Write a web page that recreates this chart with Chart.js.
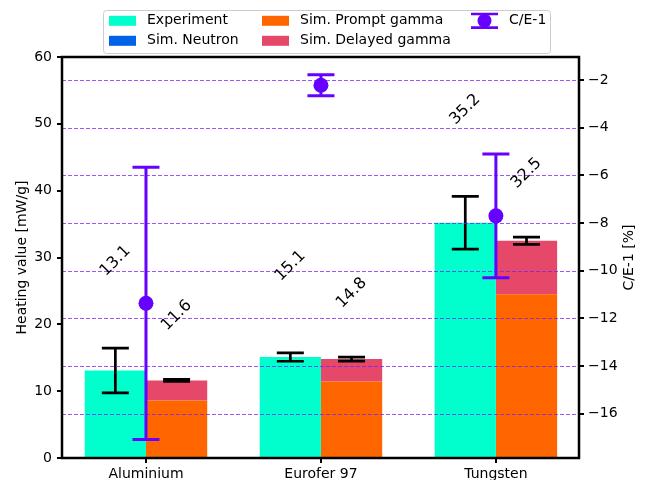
<!DOCTYPE html>
<html>
<head>
<meta charset="utf-8">
<script src="https://cdn.jsdelivr.net/npm/chart.js@4/dist/chart.umd.min.js"></script>
<style>
  html, body { margin: 0; padding: 0; background: #fff; }
  canvas { display: block; }
</style>
</head>
<body>
<canvas id="heating" width="646" height="480"></canvas>
<script>
// ---- data -------------------------------------------------------------
const categories = ['Aluminium', 'Eurofer 97', 'Tungsten'];
const experiment = [13.1, 15.1, 35.2];
const experimentErr = [3.35, 0.62, 3.94];
const simNeutron = [0.15, 0.05, 0.05];
const simPrompt = [8.45, 11.4, 24.45];
const simDelayed = [3.0, 3.35, 8.0];
const simErr = [0.15, 0.3, 0.55];
const ceMinusOne = [-11.37, -2.22, -7.70];
const ceErr = [5.71, 0.44, 2.60];
const heatingTicks = [0, 10, 20, 30, 40, 50, 60];
const ceTicks = [-16, -14, -12, -10, -8, -6, -4, -2];

const simTotal = categories.map((_, i) => simNeutron[i] + simPrompt[i] + simDelayed[i]);

// ---- style --------------------------------------------------------------
const FONT = 'DejaVu Sans';
const COLORS = {
  experiment: '#00ffcc',
  neutron: '#0062e6',
  prompt: '#ff6600',
  delayed: '#e6486a',
  ce: '#6600ff',
  grid: 'rgba(112, 32, 255, 0.75)'
};
const LABEL_LIFT = { experiment: 87, simulation: 64 };
const CAP_HALF = 13.5;
const LEGEND_BOX = { x: 103.5, y: 10.5, w: 447, h: 43 };
const LEGEND_COLS = [109, 262, 471];
const LEGEND_ROWS = [20.8, 40.8];

Chart.defaults.font.family = FONT;
Chart.defaults.color = '#000';

const xy = arr => arr.map((v, i) => ({ x: i, y: v }));

function errorBar(ctx, x, yLow, yHigh, color, width) {
  ctx.save();
  ctx.strokeStyle = color;
  ctx.lineWidth = width;
  ctx.beginPath();
  ctx.moveTo(x, yLow); ctx.lineTo(x, yHigh);
  ctx.moveTo(x - CAP_HALF, yLow); ctx.lineTo(x + CAP_HALF, yLow);
  ctx.moveTo(x - CAP_HALF, yHigh); ctx.lineTo(x + CAP_HALF, yHigh);
  ctx.stroke();
  ctx.restore();
}

const decorations = {
  id: 'heatingDecorations',
  beforeDatasetDraw(chart, args) {
    if (chart.data.datasets[args.index].label !== 'C/E-1') return;
    const ctx = chart.ctx;
    const area = chart.chartArea;
    const y = chart.scales.y;
    const y2 = chart.scales.y2;
    const expMeta = chart.getDatasetMeta(0);
    const simMeta = chart.getDatasetMeta(3);

    // uncertainty of measured and total simulated heating
    categories.forEach((_, i) => {
      errorBar(ctx, expMeta.data[i].x,
        y.getPixelForValue(experiment[i] - experimentErr[i]),
        y.getPixelForValue(experiment[i] + experimentErr[i]), '#000', 2.7);
      errorBar(ctx, simMeta.data[i].x,
        y.getPixelForValue(simTotal[i] - simErr[i]),
        y.getPixelForValue(simTotal[i] + simErr[i]), '#000', 2.7);
    });

    // dashed grid following the C/E-1 axis
    ctx.save();
    ctx.beginPath();
    ctx.rect(area.left, area.top, area.right - area.left, area.bottom - area.top);
    ctx.clip();
    ctx.strokeStyle = COLORS.grid;
    ctx.lineWidth = 1;
    ctx.setLineDash([4, 2]);
    ceTicks.forEach(v => {
      const py = Math.round(y2.getPixelForValue(v)) + 0.5;
      ctx.beginPath();
      ctx.moveTo(area.left, py);
      ctx.lineTo(area.right, py);
      ctx.stroke();
    });
    ctx.restore();

    // C/E-1 uncertainty
    const ceMeta = chart.getDatasetMeta(args.index);
    categories.forEach((_, i) => {
      errorBar(ctx, ceMeta.data[i].x,
        y2.getPixelForValue(ceMinusOne[i] - ceErr[i]),
        y2.getPixelForValue(ceMinusOne[i] + ceErr[i]), COLORS.ce, 3);
    });
  },
  afterDatasetsDraw(chart) {
    const ctx = chart.ctx;
    const y = chart.scales.y;
    const expMeta = chart.getDatasetMeta(0);
    const simMeta = chart.getDatasetMeta(3);
    ctx.save();
    ctx.font = '16px "' + FONT + '"';
    ctx.fillStyle = '#000';
    ctx.textAlign = 'center';
    ctx.textBaseline = 'middle';
    const put = (x, py, text) => {
      ctx.save();
      ctx.translate(x, py);
      ctx.rotate(-Math.PI / 4);
      ctx.fillText(text, 0, 0);
      ctx.restore();
    };
    categories.forEach((_, i) => {
      put(expMeta.data[i].x,
        y.getPixelForValue(experiment[i] + experimentErr[i]) - LABEL_LIFT.experiment,
        experiment[i].toFixed(1));
      put(simMeta.data[i].x,
        y.getPixelForValue(simTotal[i] + simErr[i]) - LABEL_LIFT.simulation,
        simTotal[i].toFixed(1));
    });
    ctx.restore();
  },
  afterDraw(chart) {
    const ctx = chart.ctx;
    const area = chart.chartArea;
    ctx.save();

    // axes frame
    ctx.strokeStyle = '#000';
    ctx.lineWidth = 2.5;
    ctx.strokeRect(area.left, area.top, area.right - area.left, area.bottom - area.top);

    // axis titles
    ctx.font = '14px "' + FONT + '"';
    ctx.fillStyle = '#000';
    ctx.textAlign = 'center';
    ctx.textBaseline = 'middle';
    const midY = (area.top + area.bottom) / 2;
    [[22.5, 'Heating value [mW/g]'], [629.5, 'C/E-1 [%]']].forEach(([x, t]) => {
      ctx.save();
      ctx.translate(x, midY);
      ctx.rotate(-Math.PI / 2);
      ctx.fillText(t, 0, 0);
      ctx.restore();
    });

    // legend
    const b = LEGEND_BOX;
    ctx.beginPath();
    ctx.roundRect(b.x, b.y, b.w, b.h, 3);
    ctx.fillStyle = 'rgba(255,255,255,0.8)';
    ctx.fill();
    ctx.strokeStyle = '#cccccc';
    ctx.lineWidth = 1;
    ctx.stroke();

    const ds = chart.data.datasets;
    const slots = [[0, 0, 0], [1, 0, 1], [2, 1, 0], [3, 1, 1], [4, 2, 0]];
    ctx.textAlign = 'left';
    slots.forEach(([d, c, r]) => {
      const x0 = LEGEND_COLS[c];
      const yc = LEGEND_ROWS[r];
      if (ds[d].type === 'line') {
        const xc = x0 + 13.5;
        ctx.strokeStyle = ds[d].backgroundColor;
        ctx.lineWidth = 2.7;
        ctx.beginPath();
        ctx.moveTo(xc, yc - 6.8); ctx.lineTo(xc, yc + 6.8);
        ctx.moveTo(x0, yc - 6.8); ctx.lineTo(x0 + 27, yc - 6.8);
        ctx.moveTo(x0, yc + 6.8); ctx.lineTo(x0 + 27, yc + 6.8);
        ctx.stroke();
        ctx.fillStyle = ds[d].backgroundColor;
        ctx.beginPath();
        ctx.arc(xc, yc, 7, 0, Math.PI * 2);
        ctx.fill();
      } else {
        ctx.fillStyle = ds[d].backgroundColor;
        ctx.fillRect(x0, yc - 5, 27, 10);
      }
      ctx.fillStyle = '#000';
      ctx.fillText(ds[d].label, x0 + 38, yc);
    });
    ctx.restore();
  }
};

const barCommon = { type: 'bar', yAxisID: 'y', xAxisID: 'x', order: 1, borderWidth: 0,
  categoryPercentage: 0.7, barPercentage: 1.0 };

const tickGrid = { drawOnChartArea: false, drawTicks: true, tickLength: 5, lineWidth: 2, color: '#000', offset: false };
const tickFont = { family: FONT, size: 14 };

new Chart(document.getElementById('heating'), {
  type: 'bar',
  data: {
    datasets: [
      { ...barCommon, label: 'Experiment', data: xy(experiment), backgroundColor: COLORS.experiment, stack: 'exp' },
      { ...barCommon, label: 'Sim. Neutron', data: xy(simNeutron), backgroundColor: COLORS.neutron, stack: 'sim' },
      { ...barCommon, label: 'Sim. Prompt gamma', data: xy(simPrompt), backgroundColor: COLORS.prompt, stack: 'sim' },
      { ...barCommon, label: 'Sim. Delayed gamma', data: xy(simDelayed), backgroundColor: COLORS.delayed, stack: 'sim' },
      { type: 'line', label: 'C/E-1', data: xy(ceMinusOne), xAxisID: 'x', yAxisID: 'y2', order: 0,
        showLine: false, pointRadius: 7.5, pointHoverRadius: 7.5, pointBorderWidth: 0,
        backgroundColor: COLORS.ce, borderColor: COLORS.ce }
    ]
  },
  options: {
    responsive: false,
    devicePixelRatio: 1,
    animation: false,
    events: [],
    layout: { padding: { top: 57, left: 0, right: 0, bottom: 0 } },
    plugins: { legend: { display: false }, tooltip: { enabled: false } },
    scales: {
      x: {
        type: 'linear', position: 'bottom', min: -0.48, max: 2.475, offset: false,
        afterBuildTicks: s => { s.ticks = categories.map((_, i) => ({ value: i })); },
        ticks: { callback: v => categories[v], font: tickFont, color: '#000', padding: 3, autoSkip: false, maxRotation: 0 },
        grid: tickGrid,
        border: { display: false },
        afterFit: s => { s.height = 22; }
      },
      y: {
        type: 'linear', position: 'left', min: 0, max: 60, stacked: true,
        afterBuildTicks: s => { s.ticks = heatingTicks.map(v => ({ value: v })); },
        ticks: { font: tickFont, color: '#000', padding: 5 },
        grid: tickGrid,
        border: { display: false },
        afterFit: s => { s.width = 62; }
      },
      y2: {
        type: 'linear', position: 'right', min: -17.86, max: -1.035,
        afterBuildTicks: s => { s.ticks = ceTicks.map(v => ({ value: v })); },
        ticks: { font: tickFont, color: '#000', padding: 4, callback: v => String(v).replace('-', '\u2212') },
        grid: tickGrid,
        border: { display: false },
        afterFit: s => { s.width = 67; }
      }
    }
  },
  plugins: [decorations]
});
</script>
</body>
</html>
